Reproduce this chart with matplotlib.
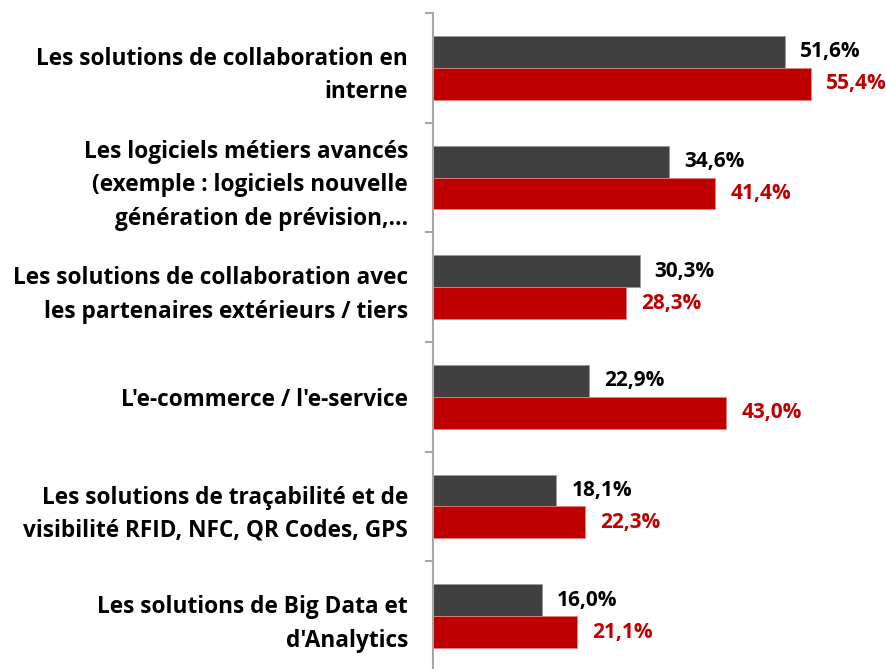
import numpy as np
import matplotlib
matplotlib.use('Agg')
import matplotlib.pyplot as plt

# chart data
categories = [
    "Les solutions de collaboration en\ninterne",
    "Les logiciels métiers avancés\n(exemple : logiciels nouvelle\ngénération de prévision,…",
    "Les solutions de collaboration avec\nles partenaires extérieurs / tiers",
    "L'e-commerce / l'e-service",
    "Les solutions de traçabilité et de\nvisibilité RFID, NFC, QR Codes, GPS",
    "Les solutions de Big Data et\nd'Analytics",
]
serie_gris = [51.6, 34.6, 30.3, 22.9, 18.1, 16.0]
serie_rouge = [55.4, 41.4, 28.3, 43.0, 22.3, 21.1]

dark = '#404040'
red = '#C00000'
plt.rcParams['font.family'] = ['Open Sans', 'DejaVu Sans']

W, H = 887, 669
fig = plt.figure(figsize=(W / 100, H / 100), dpi=100)
xmax = 65
px_per_unit = 6.82
ax = fig.add_axes([433 / W, -2 / H, xmax * px_per_unit / W, 658 / H])

n = len(categories)
y = np.arange(n)
h = 0.29
ax.barh(y - h / 2, serie_gris, height=h, color=dark, edgecolor='#9a9a9a', linewidth=0.6)
ax.barh(y + h / 2, serie_rouge, height=h, color=red, edgecolor='#e08080', linewidth=0.6)

for i in range(n):
    ax.text(serie_gris[i] + 2.2, y[i] - h / 2, f"{serie_gris[i]:.1f}".replace('.', ',') + '%',
            va='center', ha='left', fontsize=15, fontweight='bold', color='black')
    ax.text(serie_rouge[i] + 2.2, y[i] + h / 2, f"{serie_rouge[i]:.1f}".replace('.', ',') + '%',
            va='center', ha='left', fontsize=15, fontweight='bold', color=red)

ax.set_xlim(0, xmax)
ax.set_ylim(n - 0.5, -0.5)

for s in ['top', 'right', 'bottom']:
    ax.spines[s].set_visible(False)
ax.spines['left'].set_color('#a6a6a6')
ax.spines['left'].set_linewidth(1.5)
ax.set_xticks([])

ax.set_yticks(np.arange(n + 1) - 0.5)
ax.set_yticklabels([])
ax.tick_params(axis='y', which='major', length=5.5, width=1.5, color='#a6a6a6')
ax.set_yticks(y, minor=True)
ax.set_yticklabels(categories, minor=True, fontsize=16.3, fontweight='bold', linespacing=1.52)
ax.tick_params(axis='y', which='minor', length=0, pad=18)

fig.savefig('out.png', dpi=100)
